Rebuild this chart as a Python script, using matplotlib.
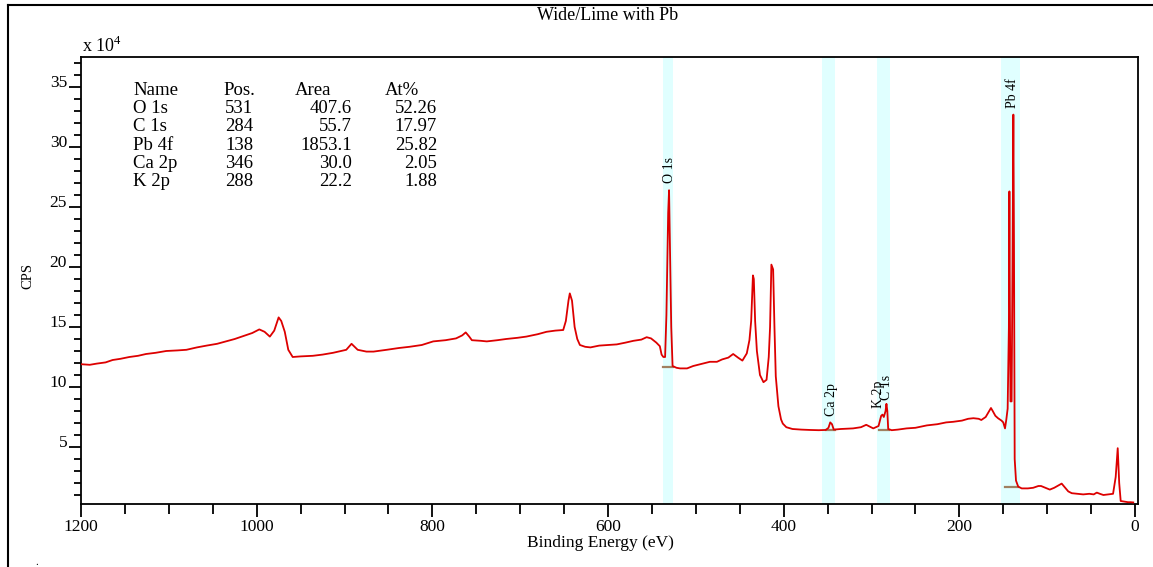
import matplotlib
matplotlib.use('Agg')
import matplotlib.pyplot as plt
from matplotlib.ticker import MultipleLocator
from matplotlib.lines import Line2D

plt.rcParams['font.family'] = ['Liberation Serif', 'DejaVu Serif']
plt.rcParams['mathtext.fontset'] = 'custom'
plt.rcParams['mathtext.rm'] = 'Liberation Serif'

# スペクトル (Binding Energy [eV], CPS x 10^4) 画像から読み取り
energy = [1200, 1190, 1182, 1172, 1164, 1155, 1145, 1135, 1126, 1115, 1103, 1090,
          1080, 1068, 1057, 1045, 1035, 1025, 1015, 1005, 997, 991, 985, 980, 975,
          972, 968, 964, 959, 950, 936, 925, 913, 898, 892, 885, 875, 867, 852, 838,
          826, 812, 799, 785, 773, 766, 762, 758, 755, 745, 738, 726, 716, 703, 693,
          680, 670, 660, 651, 648, 645, 643.5, 641, 638, 635, 632, 626, 620, 610,
          600, 590, 580, 571, 562, 556, 551, 545, 541, 539, 537, 535, 533.5, 531.5,
          530.5, 529.5, 528, 526.5, 522, 518, 510, 503, 495, 484, 476, 470, 463,
          457.5, 452, 447, 442, 439, 437, 435, 434, 432.5, 430.5, 427, 423, 419.5,
          417, 415.5, 414, 412, 410.5, 409, 406, 403, 401, 397, 390, 380, 370, 360,
          352, 349, 347, 345, 343, 335, 321, 312, 306, 302, 298, 292, 289, 287.5,
          286, 284, 283, 282, 281, 277, 270, 260, 250, 237, 225, 215, 207, 197, 190,
          184, 178, 175, 170, 166, 164, 162, 159, 156, 152, 150, 148, 146.5, 145,
          143.6, 143.0, 142.5, 141.8, 140.5, 139.5, 138.5, 137.8, 137.0, 135.5, 133,
          129, 122, 116, 110, 107, 102, 97, 92, 87, 83.5, 80, 76, 72, 65, 59, 52,
          47, 43.5, 40, 36, 30, 25, 22, 19.7, 18, 16.3, 12, 8, 5, 2]
cps = [11.9, 11.85, 11.95, 12.05, 12.25, 12.35, 12.5, 12.6, 12.75, 12.85, 13.0, 13.05,
       13.1, 13.3, 13.45, 13.6, 13.8, 14.0, 14.25, 14.5, 14.8, 14.6, 14.2, 14.7, 15.8,
       15.5, 14.6, 13.1, 12.5, 12.55, 12.6, 12.7, 12.85, 13.1, 13.6, 13.1, 12.95, 12.95,
       13.1, 13.25, 13.35, 13.5, 13.8, 13.9, 14.05, 14.3, 14.55, 14.2, 13.9, 13.85,
       13.8, 13.9, 14.0, 14.1, 14.2, 14.4, 14.6, 14.7, 14.75, 15.5, 17.2, 17.8, 17.2,
       15.0, 14.0, 13.5, 13.35, 13.3, 13.45, 13.5, 13.55, 13.7, 13.85, 13.95, 14.15,
       14.05, 13.7, 13.4, 12.7, 12.5, 12.5, 16.0, 24.5, 26.4, 22.0, 15.0, 11.75, 11.6,
       11.55, 11.55, 11.75, 11.9, 12.1, 12.1, 12.3, 12.45, 12.75, 12.45, 12.2, 12.8,
       13.9, 15.5, 19.3, 19.0, 15.5, 13.0, 11.0, 10.4, 10.6, 12.5, 15.0, 20.2, 19.8,
       15.0, 10.9, 8.4, 7.3, 6.95, 6.65, 6.5, 6.45, 6.42, 6.4, 6.42, 6.6, 7.05, 6.9,
       6.45, 6.5, 6.55, 6.65, 6.85, 6.7, 6.55, 6.75, 7.6, 7.7, 7.5, 8.0, 8.6, 8.0, 6.5,
       6.4, 6.45, 6.55, 6.6, 6.8, 6.9, 7.05, 7.1, 7.2, 7.35, 7.4, 7.35, 7.25, 7.5, 8.0,
       8.25, 8.0, 7.6, 7.4, 7.2, 7.05, 6.55, 7.3, 8.2, 15.0, 26.3, 17.0, 8.8, 8.8, 20.0,
       32.7, 22.0, 4.0, 2.2, 1.7, 1.55, 1.55, 1.6, 1.75, 1.75, 1.6, 1.45, 1.6, 1.8,
       1.95, 1.65, 1.3, 1.15, 1.1, 1.05, 1.1, 1.05, 1.2, 1.1, 1.0, 1.05, 1.1, 2.5, 4.9,
       2.0, 0.5, 0.45, 0.4, 0.4, 0.38]

# ピーク領域とバックグラウンド
regions = [(537, 526), (356, 342), (293.5, 279), (152.5, 131)]
bg_x = [(537, 526), (352, 342), (292, 280), (148, 133)]
bg_y = [11.7, 6.45, 6.45, 1.7]

# ピークラベル
peak_names = ['O 1s', 'Ca 2p', 'K 2p', 'C 1s', 'Pb 4f']
peak_x = [530.5, 345, 292.5, 283.5, 139]
peak_y = [27.0, 7.6, 8.25, 8.9, 33.25]

# 定量テーブル
tab_names = ['O 1s', 'C 1s', 'Pb 4f', 'Ca 2p', 'K 2p']
tab_pos = ['531', '284', '138', '346', '288']
tab_area = ['407.6', '55.7', '1853.1', '30.0', '22.2']
tab_at = ['52.26', '17.97', '25.82', '2.05', '1.88']

W, H = 1153, 567
fig = plt.figure(figsize=(W / 100, H / 100), dpi=100)
ax = fig.add_axes([81 / W, 1 - 504 / H, (1138 - 81) / W, (504 - 57) / H])

for lo, hi in regions:
    ax.axvspan(lo, hi, color='#E0FFFF', lw=0, zorder=0)
for (x0, x1), y in zip(bg_x, bg_y):
    ax.plot([x0, x1], [y, y], color='#A08060', lw=1.6, zorder=2)

ax.plot(energy, cps, color='#DD0000', lw=1.3, zorder=3)

for name, x, y in zip(peak_names, peak_x, peak_y):
    ax.text(x, y, name, rotation=90, ha='center', va='bottom', fontsize=10)

# テーブル
fs = 13.5
hdr_y = 0.915
dy = 0.0407
ax.text(0.0492, hdr_y, 'Name', transform=ax.transAxes, fontsize=fs, va='baseline')
ax.text(0.1495, hdr_y, 'Pos.', transform=ax.transAxes, fontsize=fs, va='baseline', ha='center')
ax.text(0.2025, hdr_y, 'Area', transform=ax.transAxes, fontsize=fs, va='baseline')
ax.text(0.2876, hdr_y, 'At%', transform=ax.transAxes, fontsize=fs, va='baseline')
for i in range(len(tab_names)):
    yy = hdr_y - dy * (i + 1)
    ax.text(0.0492, yy, tab_names[i], transform=ax.transAxes, fontsize=fs, va='baseline')
    ax.text(0.1495, yy, tab_pos[i], transform=ax.transAxes, fontsize=fs, va='baseline', ha='center')
    ax.text(0.2564, yy, tab_area[i], transform=ax.transAxes, fontsize=fs, va='baseline', ha='right')
    ax.text(0.3368, yy, tab_at[i], transform=ax.transAxes, fontsize=fs, va='baseline', ha='right')

ax.set_xlim(1200, -3.4)
ax.set_ylim(0.25, 37.5)
ax.set_xticks([1200, 1000, 800, 600, 400, 200, 0])
ax.xaxis.set_minor_locator(MultipleLocator(50))
ax.set_yticks([5, 10, 15, 20, 25, 30, 35])
ax.yaxis.set_minor_locator(MultipleLocator(1))
ax.tick_params(which='both', direction='out', width=1.3, labelsize=12.5)
ax.tick_params(axis='x', which='major', length=9, pad=2)
ax.tick_params(axis='x', which='minor', length=7)
ax.tick_params(axis='y', which='major', length=9, pad=1)
ax.tick_params(axis='y', which='minor', length=5)
for lbl in ax.get_yticklabels():
    lbl.set_verticalalignment('baseline')
for sp in ax.spines.values():
    sp.set_linewidth(1.3)

fig.text(608 / W, 1 - 15 / H, 'Wide/Lime with Pb', ha='center', va='center', fontsize=13)
fig.text(600 / W, 1 - 543 / H, 'Binding Energy (eV)', ha='center', va='center', fontsize=12.5)
fig.text(28 / W, 1 - 276 / H, 'CPS', ha='center', va='center', rotation=90, fontsize=10.5)
fig.text(82 / W, 1 - 52 / H, r'x 10$^{\mathrm{4}}$', ha='left', va='baseline', fontsize=13)
fig.text(37 / W, 0.0, '.', ha='center', va='bottom', fontsize=8)

# 外枠
fig.add_artist(Line2D([8 / W, 8 / W], [0, 1 - 5 / H], transform=fig.transFigure, color='black', lw=1.5))
fig.add_artist(Line2D([8 / W, 1], [1 - 5 / H, 1 - 5 / H], transform=fig.transFigure, color='black', lw=1.5))

fig.savefig('out.png', dpi=100)
